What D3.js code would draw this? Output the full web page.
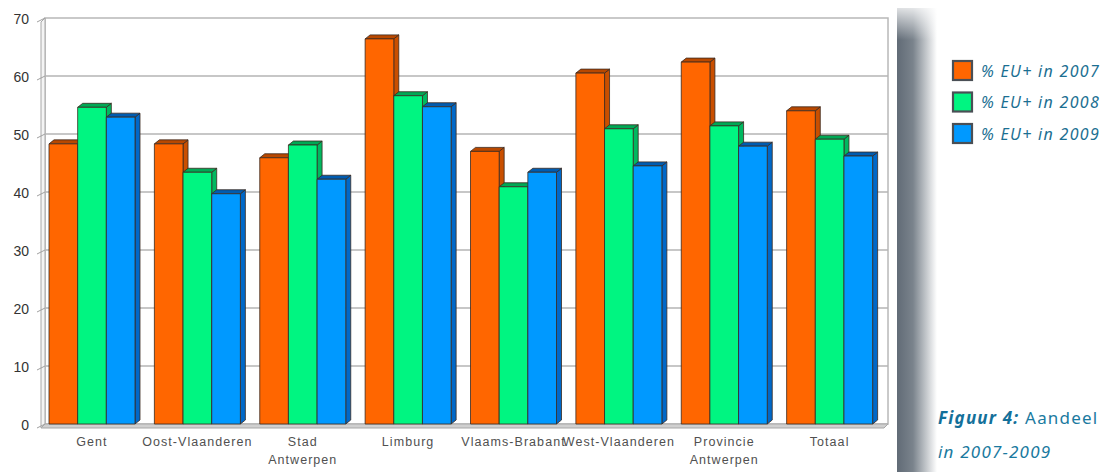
<!DOCTYPE html>
<html><head><meta charset="utf-8">
<script src="https://cdn.jsdelivr.net/npm/d3@7"></script>
<style>body{margin:0;background:#fff}svg{display:block}</style>
</head><body>
<svg id="c" width="1101" height="472"></svg>
<script>
const categories = [["Gent"],["Oost-Vlaanderen"],["Stad","Antwerpen"],["Limburg"],["Vlaams-Brabant"],["West-Vlaanderen"],["Provincie","Antwerpen"],["Totaal"]];
const seriesNames = ["% EU+ in 2007","% EU+ in 2008","% EU+ in 2009"];
const v2007 = [48.3, 48.3, 45.9, 66.4, 47.0, 60.5, 62.4, 54.0];
const v2008 = [54.6, 43.4, 48.1, 56.6, 40.9, 50.9, 51.4, 49.1];
const v2009 = [52.9, 39.7, 42.2, 54.7, 43.4, 44.5, 47.9, 46.2];
const yTicks = [0,10,20,30,40,50,60,70];
const series = [v2007, v2008, v2009];
const fronts = ["#ff6600", "#00f581", "#0099ff"];
const sides = ["#c94f00", "#00b860", "#0068c8"];
const tops = ["#b84800", "#00a855", "#005cb0"];

const svg = d3.select("#c");
const defs = svg.append("defs");
const g1 = defs.append("linearGradient").attr("id","sh").attr("x1","0").attr("x2","1");
g1.append("stop").attr("offset","0").attr("stop-color","#616b76");
g1.append("stop").attr("offset","0.4").attr("stop-color","#7a838c");
g1.append("stop").attr("offset","1").attr("stop-color","#ffffff");
const g2 = defs.append("linearGradient").attr("id","shT").attr("x1","0").attr("x2","0").attr("y1","0").attr("y2","1");
g2.append("stop").attr("offset","0").attr("stop-color","#fff").attr("stop-opacity",1);
g2.append("stop").attr("offset","1").attr("stop-color","#fff").attr("stop-opacity",0);

// shadow strip
svg.append("rect").attr("x",897).attr("y",8).attr("width",40).attr("height",464).attr("fill","url(#sh)");
svg.append("rect").attr("x",895).attr("y",0).attr("width",45).attr("height",40).attr("fill","url(#shT)");

const D = 4; // depth offset
const left = 45, right = 888;
const y = d3.scaleLinear().domain([0,70]).range([424,18]);
const x = d3.scaleBand().domain(d3.range(categories.length)).range([left, right]).paddingInner(0).paddingOuter(0);
const xs = d3.scaleBand().domain(d3.range(3)).range([4, 90]);

// back wall
svg.append("rect").attr("x",left).attr("y",y(70)).attr("width",right-left).attr("height",y(0)-y(70))
  .attr("fill","#fff").attr("stroke","#b8b8b8").attr("stroke-width",1.5);
// left wall
svg.append("path").attr("d",`M${left-D},${y(70)+D}L${left},${y(70)}L${left},${y(0)}L${left-D},${y(0)+D}Z`)
  .attr("fill","#f4f4f4").attr("stroke","#a8a8a8").attr("stroke-width",1);
// floor
svg.append("path").attr("d",`M${left-D},${y(0)+D}L${left},${y(0)}L${right},${y(0)}L${right-D},${y(0)+D}Z`)
  .attr("fill","#d0d0d0").attr("stroke","#a8a8a8").attr("stroke-width",1);

// grid
svg.append("g").selectAll("line").data(yTicks.slice(1,-1)).join("line")
  .attr("x1",left).attr("x2",right).attr("y1",d=>y(d)).attr("y2",d=>y(d))
  .attr("stroke","#b4b4b4").attr("stroke-width",1.5);
svg.append("g").selectAll("line").data(yTicks).join("line")
  .attr("x1",left-D-4).attr("x2",left).attr("y1",d=>y(d)+D).attr("y2",d=>y(d))
  .attr("stroke","#a0a0a0").attr("stroke-width",1);

// y axis labels
svg.append("g").selectAll("text").data(yTicks).join("text")
  .attr("x",29).attr("y",d=>y(d)+1).attr("dy","0.35em").attr("text-anchor","end")
  .attr("font-family","Liberation Sans, Arial, sans-serif").attr("font-size",14).attr("fill","#333")
  .text(d=>d);

// bars
const bars = svg.append("g");
categories.forEach((c,i)=>{
  series.forEach((s,k)=>{
    const x0 = x(i) + xs(k), w = xs.bandwidth(), yt = y(s[i]), yb = y(0);
    const gb = bars.append("g").attr("stroke","#3a2a20").attr("stroke-width",0.8).attr("stroke-linejoin","round");
    gb.append("path").attr("d",`M${x0+w},${yt}L${x0+w+D+1},${yt-D}L${x0+w+D+1},${yb-D}L${x0+w},${yb}Z`).attr("fill",sides[k]);
    gb.append("path").attr("d",`M${x0},${yt}L${x0+D+1},${yt-D}L${x0+w+D+1},${yt-D}L${x0+w},${yt}Z`).attr("fill",tops[k]);
    gb.append("rect").attr("x",x0).attr("y",yt).attr("width",w).attr("height",yb-yt).attr("fill",fronts[k]);
  });
});

// category labels
const cl = svg.append("g").attr("font-family","Liberation Sans, Arial, sans-serif").attr("font-size",12.5)
  .attr("letter-spacing",1.05).attr("fill","#505050").attr("text-anchor","middle");
categories.forEach((c,i)=>{
  const cx = x(i) + (xs(0)+xs(2)+xs.bandwidth())/2;
  const t = cl.append("text").attr("x",cx).attr("y",446);
  c.forEach((line,j)=>t.append("tspan").attr("x",cx).attr("dy",j?18:0).text(line));
});

// legend
const lg = svg.append("g");
seriesNames.forEach((n,k)=>{
  const yy = 61 + k*31.5;
  lg.append("rect").attr("x",953).attr("y",yy).attr("width",19).attr("height",19)
    .attr("fill",fronts[k]).attr("stroke","#4a4f55").attr("stroke-width",2.2);
  lg.append("text").attr("x",981).attr("y",yy+10).attr("dy","0.36em")
    .attr("font-family","'Noto Sans', 'Open Sans', sans-serif").attr("font-style","italic")
    .attr("font-size",16).attr("letter-spacing",1.3).attr("fill","#1b6f92").text(n);
});

// caption
const cap = svg.append("text").attr("x",938).attr("y",424)
  .attr("font-family","'Noto Sans', 'Open Sans', sans-serif")
  .attr("font-size",17).attr("letter-spacing",1.2).attr("fill","#1a7aa0");
cap.append("tspan").attr("font-weight","bold").attr("font-style","italic").attr("fill","#13709a").text("Figuur 4:");
cap.append("tspan").text(" Aandeel");
svg.append("text").attr("x",938).attr("y",458)
  .attr("font-family","'Noto Sans', 'Open Sans', sans-serif").attr("font-style","italic")
  .attr("font-size",17).attr("letter-spacing",1.2).attr("fill","#1a7aa0").text("in 2007-2009");
</script>
</body></html>
